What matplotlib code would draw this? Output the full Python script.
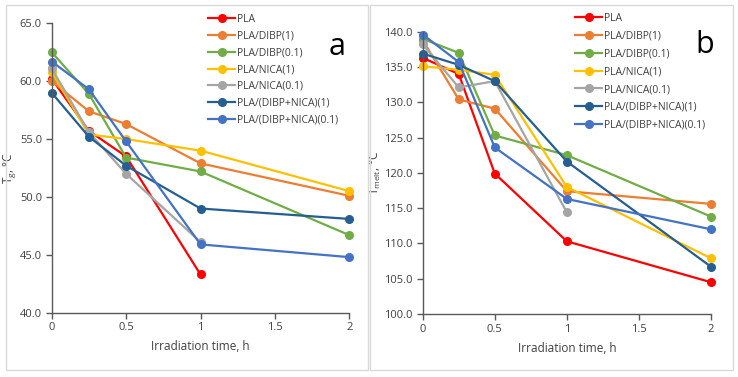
import matplotlib
matplotlib.use("Agg")
import matplotlib.pyplot as plt
from matplotlib.patches import Rectangle
import numpy as np

plt.rcParams['font.family'] = ['Open Sans', 'DejaVu Sans']
plt.rcParams['mathtext.default'] = 'regular'

times = [0, 0.25, 0.5, 1, 2]
labels = ["PLA", "PLA/DIBP(1)", "PLA/DIBP(0.1)", "PLA/NICA(1)", "PLA/NICA(0.1)",
          "PLA/(DIBP+NICA)(1)", "PLA/(DIBP+NICA)(0.1)"]
colors = ["#FF0000", "#ED7D31", "#70AD47", "#FFC000", "#A5A5A5", "#255E91", "#4472C4"]

# Panel a: glass transition temperature
tg_pla = [60.2, 55.7, 53.5, 43.3]
tg_dibp1 = [60.0, 57.4, 56.3, 52.9, 50.1]
tg_dibp01 = [62.5, 58.9, 53.4, 52.2, 46.7]
tg_nica1 = [60.8, 55.4, 55.0, 54.0, 50.5]
tg_nica01 = [61.1, 55.6, 52.0, 46.1]
tg_mix1 = [59.0, 55.2, 52.7, 49.0, 48.1]
tg_mix01 = [61.7, 59.3, 54.8, 45.9, 44.8]

# Panel b: melting temperature
tm_pla = [136.3, 134.0, 119.9, 110.3, 104.5]
tm_dibp1 = [138.8, 130.4, 129.1, 117.4, 115.6]
tm_dibp01 = [139.0, 137.0, 125.3, 122.5, 113.8]
tm_nica1 = [135.1, 134.6, 133.9, 118.0, 107.9]
tm_nica01 = [138.2, 132.1, 133.0, 114.4]
tm_mix1 = [136.9, 135.3, 133.0, 121.6, 106.7]
tm_mix01 = [139.6, 135.7, 123.6, 116.3, 112.0]

tg_series = [tg_pla, tg_dibp1, tg_dibp01, tg_nica1, tg_nica01, tg_mix1, tg_mix01]
tm_series = [tm_pla, tm_dibp1, tm_dibp01, tm_nica1, tm_nica01, tm_mix1, tm_mix01]

fig = plt.figure(figsize=(7.38, 3.77), dpi=100)
W, H = 738, 377

# panel frames
for (x0, x1) in [(6, 368), (370, 733)]:
    fig.patches.append(Rectangle((x0 / W, 1 - 370 / H), (x1 - x0) / W, (370 - 5) / H,
                                 transform=fig.transFigure, fill=False,
                                 edgecolor="#D9D9D9", linewidth=1.0))

def px_axes(l, r, t, b):
    return fig.add_axes([l / W, 1 - b / H, (r - l) / W, (b - t) / H])

axa = px_axes(51.7, 349.3, 23.3, 312.7)
axb = px_axes(422.7, 711, 31.7, 314)

def style(ax, ylim, yticks, ylabel, legend_anchor, spacing, letter, letter_pos):
    ax.set_xlim(0, 2)
    ax.set_ylim(*ylim)
    ax.set_xticks([0, 0.5, 1, 1.5, 2])
    ax.set_xticklabels(["0", "0.5", "1", "1.5", "2"])
    ax.set_yticks(yticks)
    ax.set_yticklabels([f"{v:.1f}" for v in yticks])
    for s in ["top", "right"]:
        ax.spines[s].set_visible(False)
    for s in ["left", "bottom"]:
        ax.spines[s].set_color("#595959")
        ax.spines[s].set_linewidth(1.0)
    ax.tick_params(direction="out", length=4, width=1.0, color="#595959",
                   labelsize=8, labelcolor="#404040", pad=3)
    ax.set_xlabel("Irradiation time, h", fontsize=8.5, color="#404040", labelpad=5)
    ax.set_ylabel(ylabel, fontsize=8.5, color="#404040", labelpad=1)
    ax.set_facecolor("none")
    leg = ax.legend(loc="upper left", bbox_to_anchor=legend_anchor,
                    bbox_transform=fig.transFigure, frameon=False, fontsize=7.5,
                    handlelength=2.6, handletextpad=0.2, labelspacing=spacing,
                    borderaxespad=0, borderpad=0)
    for t in leg.get_texts():
        t.set_color("#404040")
    fig.text(letter_pos[0] / W, 1 - letter_pos[1] / H, letter, fontsize=22,
             ha="center", va="center", color="black")

for ax, series in [(axa, tg_series), (axb, tm_series)]:
    for vals, lab, col in zip(series, labels, colors):
        ax.plot(times[:len(vals)], vals, color=col, linewidth=1.6, marker="o",
                markersize=5.5, label=lab, clip_on=False)

style(axa, (40, 65), [40, 45, 50, 55, 60, 65], r"T$_{g}$, °C",
      (208 / W, 1 - 14 / H), 0.55, "a", (337, 47))
style(axb, (100, 140), [100, 105, 110, 115, 120, 125, 130, 135, 140],
      r"T$_{melt}$, °C", (575 / W, 1 - 13 / H), 0.65, "b", (705, 45))

fig.savefig("out.png", dpi=100)
